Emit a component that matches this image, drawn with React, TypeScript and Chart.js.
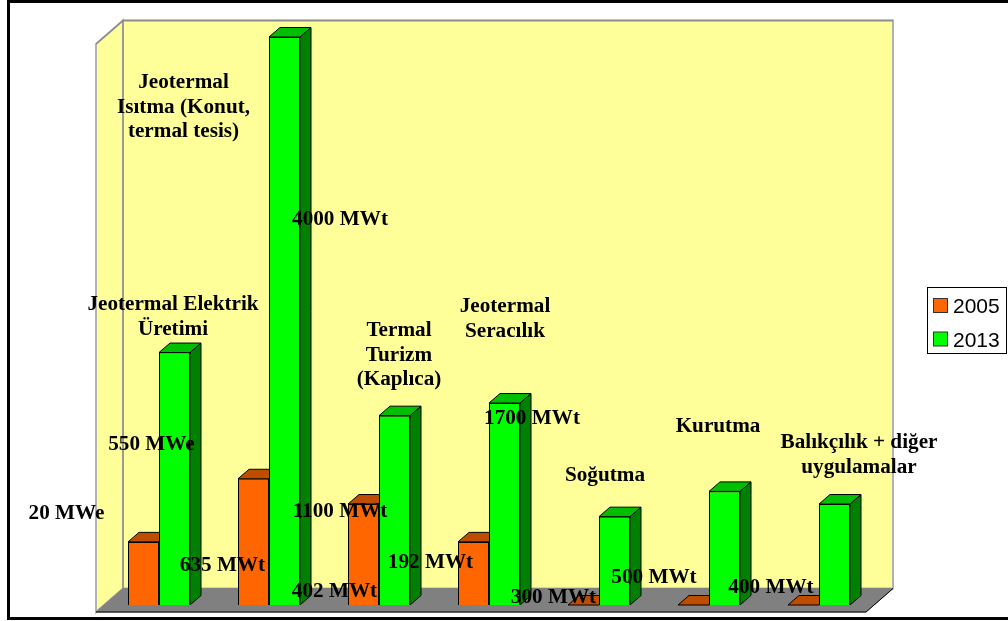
import React, { useEffect, useRef } from "react";
import { Chart, registerables } from "chart.js";

Chart.register(...registerables);

// Bar heights follow the chart's unlabelled index axis; the capacity captions
// are free-standing annotations, as on the original slide.
const categories = ["Elektrik", "Isıtma", "Turizm", "Seracılık", "Soğutma", "Kurutma", "Balıkçılık"];
const values2005 = [5, 10, 8, 5, 0, 0, 0];
const values2013 = [20, 45, 15, 16, 7, 9, 8];
const axisMax = 45;

const captionTexts = [
  ["Jeotermal", "Isıtma (Konut,", "termal tesis)"],
  ["Jeotermal Elektrik", "Üretimi"],
  ["Termal", "Turizm", "(Kaplıca)"],
  ["Jeotermal", "Seracılık"],
  ["Soğutma"],
  ["Kurutma"],
  ["Balıkçılık + diğer", "uygulamalar"],
  ["4000 MWt"],
  ["550 MWe"],
  ["20 MWe"],
  ["635 MWt"],
  ["1100 MWt"],
  ["402 MWt"],
  ["192 MWt"],
  ["1700 MWt"],
  ["300 MWt"],
  ["500 MWt"],
  ["400 MWt"],
];
// Centre x and first baseline y of each caption block.
const captionAnchors = [
  [183.5, 88], [173, 310], [399, 336], [505, 312], [605, 481], [718, 432], [859, 448],
  [340, 225], [151.5, 450], [66.5, 519], [222.5, 571], [340, 517], [334.5, 597], [430.5, 568],
  [532, 424], [553.5, 603], [654, 583], [771, 593],
];
const captionLineHeight = 24.5;

const ORANGE = ["#FF6600", "#BF4D00", "#803300"];
const GREEN = ["#00FF00", "#00BF00", "#008000"];

const BAR_DX = 11;
const BAR_DY = 9.5;
const FLOOR_FRONT = [8, 7];
const FLOOR_BACK = [19, 16.5];

const scene = {
  id: "scene3d",
  beforeDatasetsDraw(chart: Chart) {
    const { ctx, chartArea: a } = chart;
    const xl = a.left - FLOOR_FRONT[0];
    const xr = a.right - FLOOR_FRONT[0];
    const yb = a.bottom + FLOOR_FRONT[1];
    const yt = a.top + FLOOR_FRONT[1];
    const bx = FLOOR_BACK[0] + FLOOR_FRONT[0];
    const by = FLOOR_BACK[1] + FLOOR_FRONT[1];
    const poly = (pts: number[][], fill: string, stroke: string, lw = 1) => {
      ctx.beginPath();
      pts.forEach(([x, y], i) => (i ? ctx.lineTo(x, y) : ctx.moveTo(x, y)));
      ctx.closePath();
      ctx.fillStyle = fill;
      ctx.fill();
      ctx.strokeStyle = stroke;
      ctx.lineWidth = lw;
      ctx.stroke();
    };
    const line = (pts: number[][], stroke: string, lw: number) => {
      ctx.beginPath();
      pts.forEach(([x, y], i) => (i ? ctx.lineTo(x, y) : ctx.moveTo(x, y)));
      ctx.strokeStyle = stroke;
      ctx.lineWidth = lw;
      ctx.stroke();
    };
    ctx.save();
    // side wall, back wall, floor
    poly([[xl, yt], [xl + bx, yt - by], [xl + bx, yb - by], [xl, yb]], "#FFFF99", "#B2B2B2", 2);
    poly([[xl + bx, yt - by], [xr + bx, yt - by], [xr + bx, yb - by], [xl + bx, yb - by]], "#FFFF99", "#B2B2B2", 2);
    line([[xl, yt], [xl + bx, yt - by], [xr + bx, yt - by]], "#8C8C8C", 1.5);
    line([[xl + bx, yt - by], [xl + bx, yb - by]], "#808080", 1);
    poly([[xl, yb], [xr, yb], [xr + bx, yb - by], [xl + bx, yb - by]], "#808080", "#808080", 1);
    line([[xl, yb], [xr, yb], [xr + bx, yb - by]], "#000", 1);
    // top and side faces of each bar; the front faces come from the bar elements
    chart.data.datasets.forEach((ds, di) => {
      const shades = di === 0 ? ORANGE : GREEN;
      chart.getDatasetMeta(di).data.forEach((el: any) => {
        const { x, y, base, width } = el.getProps(["x", "y", "base", "width"], true);
        const l = x - width / 2;
        const r = x + width / 2;
        poly([[r, y], [r + BAR_DX, y - BAR_DY], [r + BAR_DX, base - BAR_DY], [r, base]], shades[2], "#000");
        poly([[l, y], [l + BAR_DX, y - BAR_DY], [r + BAR_DX, y - BAR_DY], [r, y]], shades[1], "#000");
      });
    });
    ctx.restore();
  },
  afterDraw(chart: Chart) {
    const { ctx, width, height } = chart;
    ctx.save();
    // slide frame
    ctx.strokeStyle = "#000";
    ctx.lineWidth = 3;
    ctx.strokeRect(8.5, 1.5, width - 8.5 + 4, height - 4);
    // captions
    ctx.fillStyle = "#000";
    ctx.textAlign = "center";
    ctx.textBaseline = "alphabetic";
    ctx.font = "bold 21.2px 'Liberation Serif'";
    captionTexts.forEach((lines, i) => {
      const [cx, cy] = captionAnchors[i];
      lines.forEach((text, j) => ctx.fillText(text, cx, cy + j * captionLineHeight));
    });
    // series key
    const boxX = 927.5;
    const boxY = 287.5;
    ctx.fillStyle = "#fff";
    ctx.fillRect(boxX, boxY, 79, 66);
    ctx.strokeStyle = "#000";
    ctx.lineWidth = 1;
    ctx.strokeRect(boxX, boxY, 79, 66);
    ctx.font = "21px 'Liberation Sans'";
    ctx.textAlign = "left";
    chart.data.datasets.forEach((ds, i) => {
      const rowY = 298.5 + i * 33.5;
      ctx.fillStyle = i === 0 ? ORANGE[0] : GREEN[0];
      ctx.fillRect(933.5, rowY, 14, 14);
      ctx.strokeStyle = "#333";
      ctx.strokeRect(933.5, rowY, 14, 14);
      ctx.fillStyle = "#000";
      ctx.fillText(String(ds.label), 953, rowY + 14.5);
    });
    ctx.restore();
  },
};

export default function App() {
  const ref = useRef<HTMLCanvasElement>(null);
  useEffect(() => {
    const chart = new Chart(ref.current!, {
      type: "bar",
      data: {
        labels: categories,
        datasets: [
          { label: "2005", data: values2005, backgroundColor: ORANGE[0], borderColor: "#000", borderWidth: 1 },
          { label: "2013", data: values2013, backgroundColor: GREEN[0], borderColor: "#000", borderWidth: 1 },
        ],
      },
      options: {
        responsive: false,
        animation: false,
        layout: { padding: { left: 104, right: 134, top: 37, bottom: 16 } },
        datasets: { bar: { categoryPercentage: 62 / 110, barPercentage: 1 } },
        plugins: { legend: { display: false }, tooltip: { enabled: false } },
        scales: {
          x: { display: false },
          y: { display: false, min: 0, max: axisMax },
        },
      },
      plugins: [scene],
    });
    return () => chart.destroy();
  }, []);
  return (
    <div style={{ position: "fixed", left: 0, top: 0, background: "#fff" }}>
      <canvas ref={ref} width={1008} height={621} style={{ display: "block" }} />
    </div>
  );
}
